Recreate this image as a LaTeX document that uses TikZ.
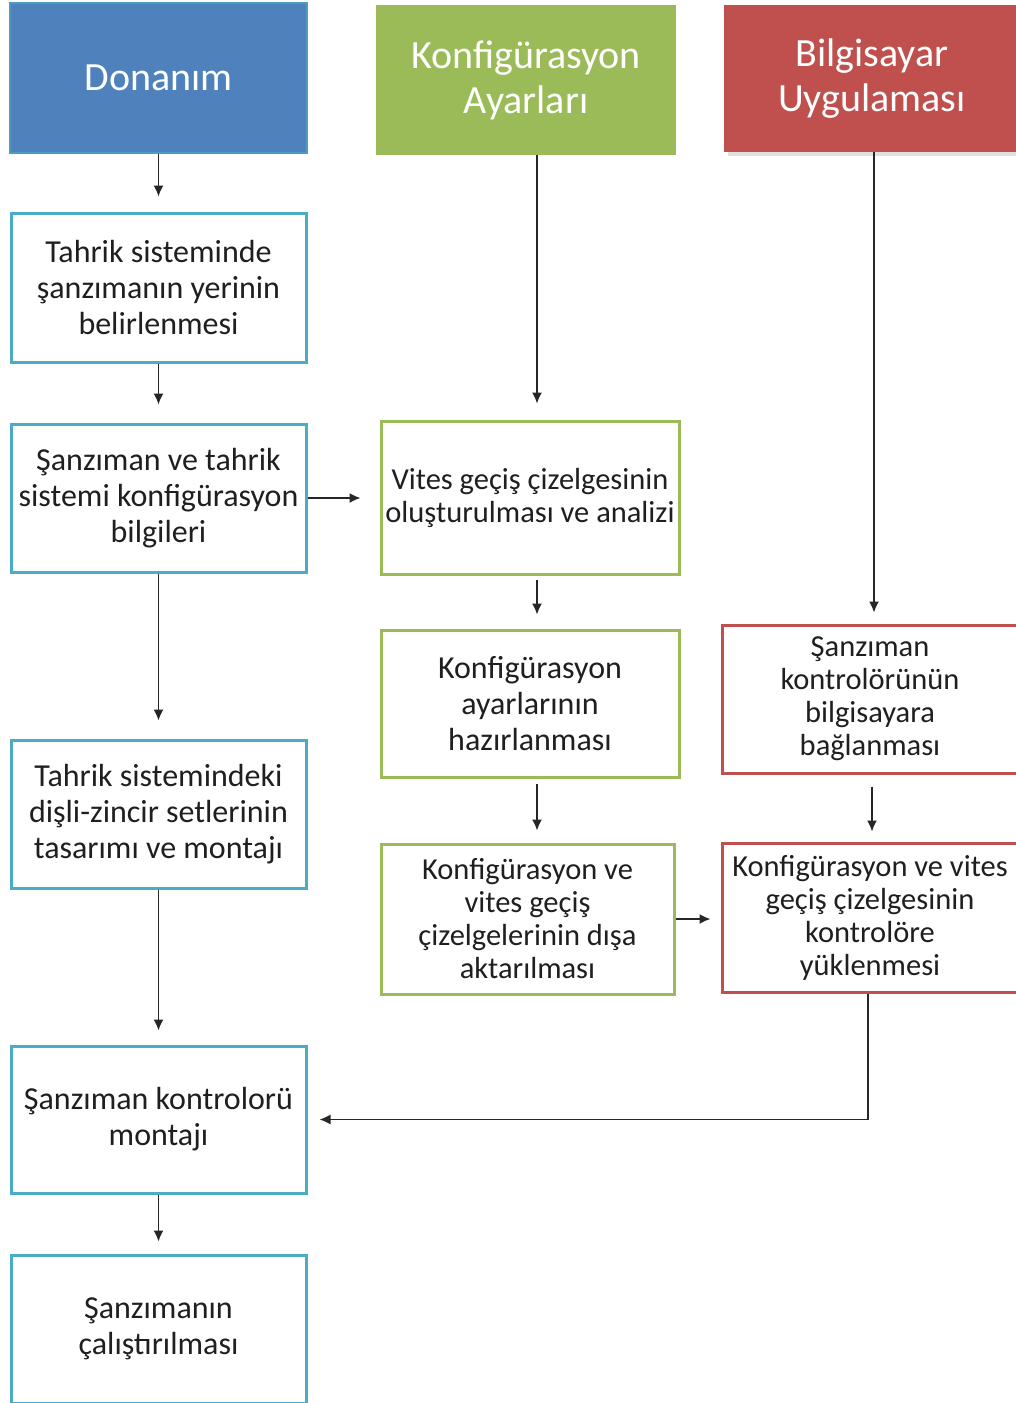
\documentclass[tikz,border=0pt]{standalone}
\usepackage{fontspec}
\setmainfont{Carlito}
\usetikzlibrary{arrows.meta}
\definecolor{cblue}{HTML}{4F81BD}
\definecolor{ccyan}{HTML}{4BACC6}
\definecolor{cgreen}{HTML}{9BBB59}
\definecolor{cred}{HTML}{C0504D}
\definecolor{ctext}{HTML}{1F1F1F}
\begin{document}
\begin{tikzpicture}[x=1pt,y=-1pt,
  box/.style={draw, line width=3pt, fill=white, align=center, inner sep=0pt, text=ctext, font=\fontsize{32}{36}\selectfont},
  smalltxt/.style={font=\fontsize{30.5}{33}\selectfont},
  bbox/.style={box, draw=ccyan},
  gbox/.style={box, draw=cgreen},
  rbox/.style={box, draw=cred},
  hdr/.style={align=center, inner sep=0pt, text=white, font=\fontsize{40}{45}\selectfont},
  arr/.style={draw=black!85, line width=1.6pt, -{Latex[length=11pt,width=10pt]}}
]
\useasboundingbox (0,0) rectangle (1016,1403);
\clip (0,0) rectangle (1016,1403);
\fill[white] (0,0) rectangle (1016,1403);

% headers
\fill[black!12] (728,9) rectangle (1020,156);
\node[hdr, fill=cblue, draw=ccyan!60!cblue, line width=1.5pt, minimum width=297pt, minimum height=150pt] (h1) at (158.5,78) {Donanım};
\node[hdr, fill=cgreen, minimum width=300pt, minimum height=150pt] (h2) at (526,80) {Konfigürasyon\\Ayarları};
\node[hdr, fill=cred, minimum width=296pt, minimum height=147pt] (h3) at (872,78.5) {Bilgisayar\\Uygulaması};

% left column
\node[bbox, minimum width=295pt, minimum height=149pt] (b1) at (158.5,287.5) {Tahrik sisteminde\\şanzımanın yerinin\\belirlenmesi};
\node[bbox, minimum width=295pt, minimum height=148pt] (b2) at (158.5,498) {Şanzıman ve tahrik\\sistemi konfigürasyon\\bilgileri};
\node[bbox, minimum width=295pt, minimum height=148pt] (b3) at (158.5,814) {Tahrik sistemindeki\\dişli-zincir setlerinin\\tasarımı ve montajı};
\node[bbox, minimum width=295pt, minimum height=147pt] (b4) at (158.5,1119.5) {Şanzıman kontrolorü\\montajı};
\node[bbox, minimum width=295pt, minimum height=148pt] (b5) at (158.5,1329) {Şanzımanın\\çalıştırılması};

% middle column
\node[gbox, smalltxt, minimum width=298pt, minimum height=153pt] (g1) at (530,497.5) {Vites geçiş çizelgesinin\\oluşturulması ve analizi};
\node[gbox, minimum width=298pt, minimum height=147pt] (g2) at (530,703.5) {Konfigürasyon\\ayarlarının\\hazırlanması};
\node[gbox, smalltxt, minimum width=293pt, minimum height=150pt] (g3) at (527.5,919) {Konfigürasyon ve\\vites geçiş\\çizelgelerinin dışa\\aktarılması};

% right column
\node[rbox, smalltxt, minimum width=296pt, minimum height=148pt] (r1) at (870,699) {Şanzıman\\kontrolörünün\\bilgisayara\\bağlanması};
\node[rbox, smalltxt, minimum width=296pt, minimum height=149pt] (r2) at (870,917.5) {Konfigürasyon ve vites\\geçiş çizelgesinin\\kontrolöre\\yüklenmesi};

\coordinate (cx) at (537,0);
\coordinate (rx) at (874,0);

% arrows left column
\draw[arr, shorten >=15pt] (h1) -- (b1);
\draw[arr, shorten >=18pt] (b1) -- (b2);
\draw[arr, shorten >=18pt] (b2) -- (b3);
\draw[arr, shorten >=14pt] (b3) -- (b4);
\draw[arr, shorten >=12pt] (b4) -- (b5);

% arrows middle column
\draw[arr, shorten >=16pt] (h2.south -| cx) -- (g1.north -| cx);
\draw[arr, shorten >=14pt, shorten <=4pt] (g1.south -| cx) -- (g2.north -| cx);
\draw[arr, shorten >=12pt, shorten <=5pt] (g2.south -| cx) -- (g3.north -| cx);

% arrows right column
\draw[arr, shorten >=11pt] (h3.south -| rx) -- (r1.north -| rx);
\draw[arr, shorten >=10pt, shorten <=12pt] ([xshift=2pt]r1.south) -- ([xshift=2pt]r2.north);

% cross arrows
\draw[arr, shorten >=19pt] (b2.east) -- (b2.east -| g1.west);
\draw[arr, shorten >=10pt] (g3.east) -- (g3.east -| r2.west);
\draw[arr, shorten >=12pt] ([xshift=-2pt]r2.south) |- (b4.east);
\end{tikzpicture}
\end{document}
